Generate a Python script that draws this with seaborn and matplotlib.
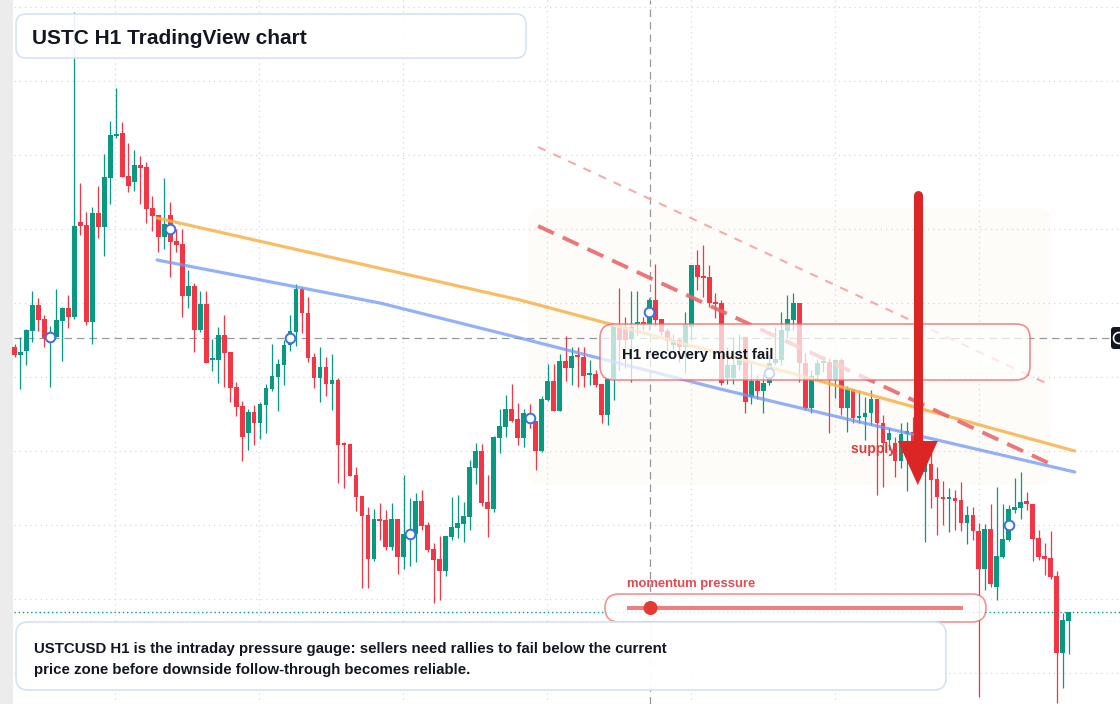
import matplotlib
matplotlib.use("Agg")
import matplotlib.pyplot as plt
from matplotlib.patches import FancyBboxPatch, Rectangle, Circle, Polygon
import numpy as np
import pandas as pd
import seaborn as sns

# ---------------- data (USTC H1, price in 1e-5 USD) ----------------
open_ = [653, 645, 649, 669, 695, 681, 662, 663, 679, 692,
         683, 778, 775, 678, 787, 773, 822, 864, 867, 824,
         818, 835, 833, 792, 785, 763, 785, 759, 756, 704,
         714, 670, 696, 640, 640, 665, 648, 613, 594, 567,
         588, 577, 595, 611, 623, 635, 655, 668, 711, 687,
         643, 622, 633, 616, 620, 557, 556, 525, 504, 485,
         441, 481, 480, 453, 481, 443, 464, 466, 499, 475,
         451, 441, 429, 463, 472, 476, 483, 532, 549, 498,
         491, 562, 573, 591, 581, 562, 584, 579, 549, 600,
         619, 589, 639, 632, 644, 643, 625, 626, 616, 585,
         621, 675, 673, 661, 676, 678, 676, 700, 681, 669,
         655, 660, 653, 673, 735, 723, 723, 697, 697, 622,
         622, 635, 663, 603, 619, 609, 617, 637, 640, 669,
         680, 697, 637, 592, 625, 637, 638, 620, 640, 592,
         611, 582, 583, 587, 601, 577, 560, 557, 539, 566,
         568, 552, 528, 536, 521, 503, 501, 502, 500, 477,
         485, 469, 431, 471, 413, 443, 460, 490, 492, 499,
         496, 462, 444, 442, 424, 347, 379]
close = [645, 648, 670, 695, 680, 662, 664, 680, 692, 683,
         774, 774, 678, 787, 773, 823, 865, 866, 823, 814,
         835, 832, 791, 784, 763, 776, 758, 755, 704, 714,
         670, 696, 637, 641, 665, 647, 612, 593, 563, 588,
         577, 596, 612, 624, 636, 655, 669, 711, 687, 642,
         622, 633, 616, 620, 555, 555, 524, 503, 484, 441,
         481, 479, 453, 481, 443, 466, 469, 499, 474, 450,
         440, 429, 464, 473, 477, 484, 533, 549, 497, 491,
         563, 574, 591, 579, 562, 587, 581, 549, 601, 619,
         589, 639, 632, 644, 643, 624, 626, 615, 585, 621,
         675, 660, 660, 673, 678, 676, 700, 680, 668, 659,
         660, 653, 676, 735, 723, 722, 697, 696, 617, 635,
         635, 643, 598, 619, 609, 617, 637, 641, 670, 681,
         697, 637, 592, 624, 637, 638, 620, 640, 592, 611,
         582, 584, 587, 601, 577, 557, 567, 539, 566, 569,
         552, 545, 542, 520, 503, 501, 502, 499, 477, 485,
         469, 431, 471, 416, 444, 461, 491, 493, 498, 496,
         461, 443, 441, 423, 347, 380, 388]
high = [656, 663, 671, 709, 702, 685, 674, 711, 693, 705,
        988, 817, 788, 793, 814, 846, 879, 912, 878, 857,
        850, 844, 838, 804, 785, 822, 798, 771, 771, 730,
        717, 709, 709, 661, 673, 685, 648, 618, 599, 591,
        595, 598, 616, 656, 641, 660, 685, 716, 713, 703,
        647, 653, 643, 646, 622, 558, 556, 533, 504, 493,
        491, 497, 490, 497, 481, 525, 502, 507, 510, 478,
        457, 464, 464, 503, 505, 498, 540, 557, 556, 525,
        564, 591, 605, 616, 597, 591, 596, 579, 604, 636,
        636, 646, 664, 653, 653, 653, 640, 630, 616, 621,
        675, 712, 683, 709, 709, 683, 702, 736, 681, 672,
        666, 662, 688, 735, 750, 755, 735, 707, 700, 653,
        663, 666, 663, 637, 625, 626, 645, 673, 688, 705,
        707, 697, 647, 630, 641, 643, 642, 641, 642, 614,
        611, 610, 603, 610, 601, 585, 572, 563, 577, 578,
        583, 560, 550, 548, 533, 519, 512, 510, 518, 494,
        493, 477, 476, 496, 513, 496, 495, 522, 528, 508,
        496, 470, 457, 469, 429, 387, 388]
low = [643, 611, 635, 658, 669, 653, 613, 663, 639, 672,
       681, 765, 675, 656, 762, 744, 796, 862, 823, 808,
       809, 796, 777, 769, 748, 751, 723, 748, 683, 692,
       648, 668, 637, 629, 617, 613, 598, 584, 539, 550,
       555, 561, 567, 609, 589, 615, 649, 654, 667, 638,
       612, 598, 604, 590, 517, 512, 524, 489, 412, 412,
       439, 460, 450, 450, 426, 431, 434, 438, 470, 448,
       397, 400, 424, 460, 462, 458, 470, 516, 494, 463,
       488, 547, 563, 578, 555, 553, 572, 530, 548, 599,
       589, 589, 619, 615, 613, 613, 615, 613, 577, 575,
       600, 630, 632, 618, 665, 670, 670, 674, 665, 650,
       650, 638, 627, 660, 710, 703, 693, 682, 615, 616,
       616, 630, 587, 596, 601, 587, 615, 635, 635, 662,
       670, 618, 590, 587, 620, 628, 567, 602, 585, 568,
       577, 577, 560, 575, 505, 513, 550, 523, 532, 509,
       530, 525, 458, 492, 465, 475, 468, 470, 469, 456,
       460, 303, 410, 413, 400, 442, 459, 487, 481, 490,
       439, 440, 425, 421, 297, 312, 346]

marker_idx = [6, 26, 46, 66, 86, 106, 126, 166]

orange_idx = [23.8, 84.4, 114.4, 141.1, 177.0]
orange_price = [782, 700, 652, 608, 549]
blue_idx = [23.8, 61.0, 84.4, 117.8, 141.1, 177.0]
blue_price = [740, 697, 662, 611, 578, 528]
res_strong_idx = [87.4, 173.7]
res_strong_price = [774, 534]
res_light_idx = [87.4, 172.9]
res_light_price = [853, 615]
zone_idx = [85.7, 173.2]
zone_price = [515, 792]
cross_idx = 106.1
cross_price = 662
arrow_idx = 150.8
arrow_from_price = 805
arrow_to_price = 515
gauge_value = 0.07

title_text = "USTC H1 TradingView chart"
callout_text = "H1 recovery must fail"
zone_text = "supply zone"
gauge_text = "momentum pressure"
note_lines = ["USTCUSD H1 is the intraday pressure gauge: sellers need rallies to fail below the current",
              "price zone before downside follow-through becomes reliable."]

# ---------------- style ----------------
sns.set_theme(style="white")
plt.rcParams["font.family"] = ["Liberation Sans", "DejaVu Sans"]

GREEN = "#089981"
RED = "#f23645"
INK = "#131722"

W, H = 1120, 704
X0, DX = 14.5, 5.99
fig = plt.figure(figsize=(W / 100, H / 100), dpi=100)
fig.patch.set_facecolor("white")

bg = fig.add_axes([0, 0, 1, 1], zorder=0)
ax = fig.add_axes([0, 0, 1, 1], zorder=1)
fg = fig.add_axes([0, 0, 1, 1], zorder=2)
for a in (bg, fg):
    a.set_xlim(0, W)
    a.set_ylim(H, 0)
    a.axis("off")
ax.set_xlim(-X0 / DX, (W - X0) / DX)
ax.set_ylim(296, 1000)
ax.axis("off")


def to_px(i, p):
    return fg.transData.inverted().transform(ax.transData.transform((i, p)))


# background: left strip and dotted grid
bg.add_patch(Rectangle((0, 0), 13, H, fc="#ececec", ec="none"))
grid_y = [7, 81, 155, 229, 303, 377, 451, 525, 599, 673]
grid_x = [115, 259, 403, 547, 691, 835, 979]
bg.hlines(grid_y, 14, W, colors="#d6d9df", lw=0.9, linestyles=(0, (1, 3.2)))
bg.vlines(grid_x, 0, H, colors="#d6d9df", lw=0.9, linestyles=(0, (1, 3.2)))

# supply zone (faint rounded band under the candles)
zx0, zy0 = to_px(zone_idx[0], zone_price[1])
zx1, zy1 = to_px(zone_idx[1], zone_price[0])
bg.add_patch(FancyBboxPatch((zx0, zy0), zx1 - zx0, zy1 - zy0,
                            boxstyle="round,pad=0,rounding_size=14",
                            fc="#f59e0b", alpha=0.028, ec="none"))

# crosshair and last price line
ax.axvline(cross_idx, color="#9598a1", lw=0.9, ls=(0, (6, 4)), zorder=1.5)
ax.axhline(cross_price, xmin=14 / W, xmax=1111 / W, color="#9598a1", lw=0.9,
           ls=(0, (6, 4)), zorder=1.5)
ax.axhline(close[-1], xmin=14 / W, xmax=1, color=GREEN, lw=1.0, ls=(0, (1, 2)), zorder=1.5)

# candles
df = pd.DataFrame({"open": open_, "high": high, "low": low, "close": close})
df["idx"] = np.arange(len(df))
up = df["close"] >= df["open"]
colors = np.where(up, GREEN, RED)
body_lo = df[["open", "close"]].min(axis=1)
body_h = (df["close"] - df["open"]).abs().clip(lower=1.6)
ax.vlines(df["idx"], df["low"], df["high"], colors=colors, lw=0.9, zorder=3)
ax.bar(df["idx"], body_h, bottom=body_lo, width=0.8, color=colors, lw=0, zorder=3.1)

# trend lines
sns.lineplot(x=orange_idx, y=orange_price, ax=ax, color="#f7b24a", lw=2.3, alpha=0.85,
             sort=False, estimator=None, zorder=5)
sns.lineplot(x=blue_idx, y=blue_price, ax=ax, color="#6f97f3", lw=2.3, alpha=0.75,
             sort=False, estimator=None, zorder=5)
ax.plot(res_strong_idx, res_strong_price, color="#e8696b", lw=2.8, ls=(0, (4.5, 2.5)),
        alpha=0.9, zorder=5)
ax.plot(res_light_idx, res_light_price, color="#f2a3a3", lw=1.5, ls=(0, (4, 4)),
        alpha=0.9, zorder=5)

# markers at body midpoints
mid = [(open_[i] + close[i]) / 2 for i in marker_idx]
sns.scatterplot(x=marker_idx, y=mid, ax=ax, s=48, color="white", edgecolor="#3b6fe3",
                linewidth=1.4, zorder=6, legend=False)

# ---------------- foreground annotations ----------------
def rbox(x, y, w, h, r, fc, ec, lw=1.2, z=6):
    fg.add_patch(FancyBboxPatch((x, y), w, h, boxstyle=f"round,pad=0,rounding_size={r}",
                                fc=fc, ec=ec, lw=lw, zorder=z))

# title
rbox(16, 14, 510, 44, 10, (1, 1, 1, 0.9), "#d6e2f7")
fg.text(32, 36.5, title_text, fontsize=15, fontweight="bold", color=INK,
        ha="left", va="center_baseline", zorder=7)

# callout
rbox(600, 324, 430, 56, 14, (1, 1, 1, 0.72), (0.93, 0.40, 0.40, 0.75))
fg.text(622, 354, callout_text, fontsize=10.8, fontweight="bold", color=INK,
        ha="left", va="center_baseline", zorder=7)

# supply zone label + arrow
fg.text(851, 448, zone_text, fontsize=10, fontweight="bold", color="#e03a3a",
        ha="left", va="center_baseline", zorder=7)
ax_x, top_y = to_px(arrow_idx, arrow_from_price)
_, tip_y = to_px(arrow_idx, arrow_to_price)
ARROW = "#dc2626"
fg.plot([ax_x, ax_x], [top_y, tip_y - 40], color=ARROW, lw=6.5, solid_capstyle="round", zorder=8)
fg.add_patch(Polygon([(ax_x - 20, tip_y - 44), (ax_x + 20, tip_y - 44), (ax_x, tip_y)],
                     closed=True, fc=ARROW, ec="none", zorder=8))

# momentum gauge
fg.text(627, 582.5, gauge_text, fontsize=9.4, fontweight="bold", color="#e5484d",
        ha="left", va="center_baseline", zorder=7)
rbox(605, 594, 381, 28, 14, (1, 1, 1, 0.85), (0.93, 0.35, 0.35, 0.65))
track_x0, track_x1 = 627, 963
fg.plot([track_x0, track_x1], [608, 608], color="#ef7f7f", lw=2.9, solid_capstyle="butt", zorder=7)
fg.add_patch(Circle((track_x0 + gauge_value * (track_x1 - track_x0), 608), 7,
                    fc="#e53935", ec="none", zorder=7.5))

# note box
rbox(16, 622, 930, 68, 12, (1, 1, 1, 0.95), "#d6e2f7")
fg.text(34, 648, note_lines[0], fontsize=10.8, fontweight="bold", color=INK,
        ha="left", va="center_baseline", zorder=7)
fg.text(34, 668.5, note_lines[1], fontsize=10.8, fontweight="bold", color=INK,
        ha="left", va="center_baseline", zorder=7)

# crosshair price label stub at right edge
rbox(1111, 327, 20, 22, 3, INK, "none", lw=0, z=7)
fg.add_patch(Circle((1119, 338), 5.5, fill=False, ec="white", lw=1.2, zorder=7.5))

fig.savefig("out.png", dpi=100)
